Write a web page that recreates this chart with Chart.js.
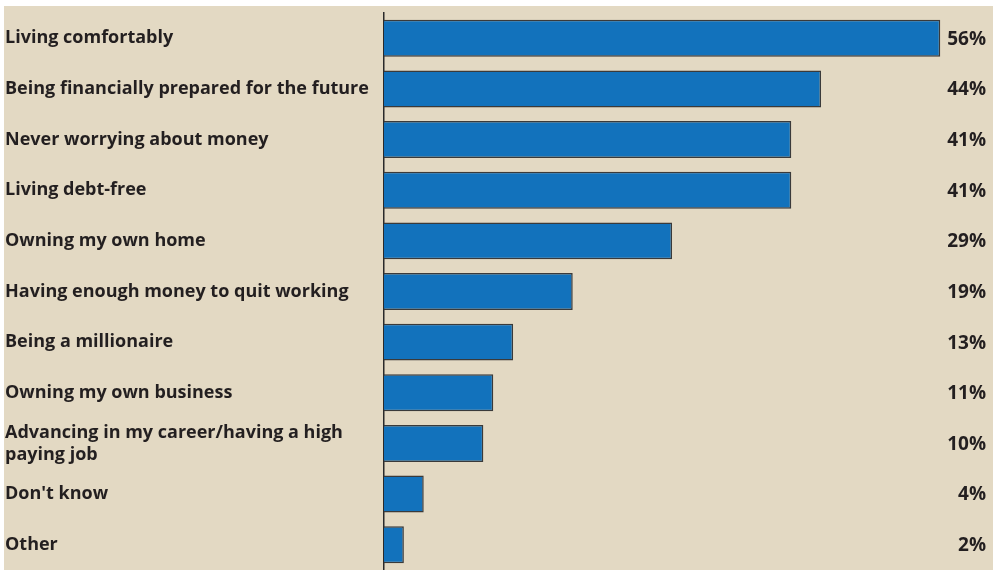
<!DOCTYPE html>
<html lang="en">
<head>
    <meta charset="UTF-8">
    <title>What does financial success mean to you</title>
    <style>
        body {
            margin: 0;
            background: #ffffff;
        }
        .box {
            position: absolute;
            left: 4px;
            top: 6px;
            width: 989px;
            height: 564px;
            background: #e3d9c3;
        }
    </style>
    <script src="https://cdn.jsdelivr.net/npm/chart.js"></script>
</head>
<body>
    <div class="box">
        <canvas id="goalsChart"></canvas>
    </div>

    <script>
        // survey answers, top to bottom
        const answers = [
            'Living comfortably',
            'Being financially prepared for the future',
            'Never worrying about money',
            'Living debt-free',
            'Owning my own home',
            'Having enough money to quit working',
            'Being a millionaire',
            'Owning my own business',
            ['Advancing in my career/having a high', 'paying job'],
            "Don't know",
            'Other'
        ];
        const shares = [56, 44, 41, 41, 29, 19, 13, 11, 10, 4, 2];
        const shareLabels = ['56%', '44%', '41%', '41%', '29%', '19%', '13%', '11%', '10%', '4%', '2%'];

        const textColor = '#231f20';

        // percent figures at the right edge
        const valueLabels = {
            id: 'valueLabels',
            afterDatasetsDraw(chart) {
                const ctx = chart.ctx;
                const yScale = chart.scales.y;
                ctx.save();
                ctx.font = 'bold 19px "Open Sans"';
                ctx.fillStyle = textColor;
                ctx.textAlign = 'right';
                ctx.textBaseline = 'middle';
                shareLabels.forEach(function(label, i) {
                    ctx.fillText(label, chart.width - 7, yScale.getPixelForValue(i) + 1);
                });
                ctx.restore();
            }
        };

        const ctx = document.getElementById('goalsChart').getContext('2d');
        const goalsChart = new Chart(ctx, {
            type: 'bar',
            data: {
                labels: answers,
                datasets: [{
                    data: shares,
                    backgroundColor: '#1272bc',
                    borderColor: '#3a3a3a',
                    borderWidth: 1.5,
                    barPercentage: 0.73,
                    categoryPercentage: 1
                }]
            },
            options: {
                indexAxis: 'y',
                responsive: true,
                maintainAspectRatio: false,
                animation: false,
                layout: {
                    padding: { left: 1, right: 13, top: 7, bottom: 0 }
                },
                scales: {
                    x: {
                        display: false,
                        min: 0,
                        max: 60
                    },
                    y: {
                        afterFit: function(scale) {
                            scale.width = 379;
                            scale.paddingTop = 0;
                            scale.paddingBottom = 0;
                        },
                        grid: { display: false },
                        border: { display: true, color: '#2a2a2a', width: 1.5 },
                        ticks: {
                            crossAlign: 'far',
                            color: textColor,
                            font: { family: 'Open Sans', size: 18, weight: 'bold', lineHeight: 1.22 }
                        }
                    }
                },
                plugins: {
                    legend: { display: false },
                    tooltip: { enabled: false }
                }
            },
            plugins: [valueLabels]
        });
    </script>
</body>
</html>
